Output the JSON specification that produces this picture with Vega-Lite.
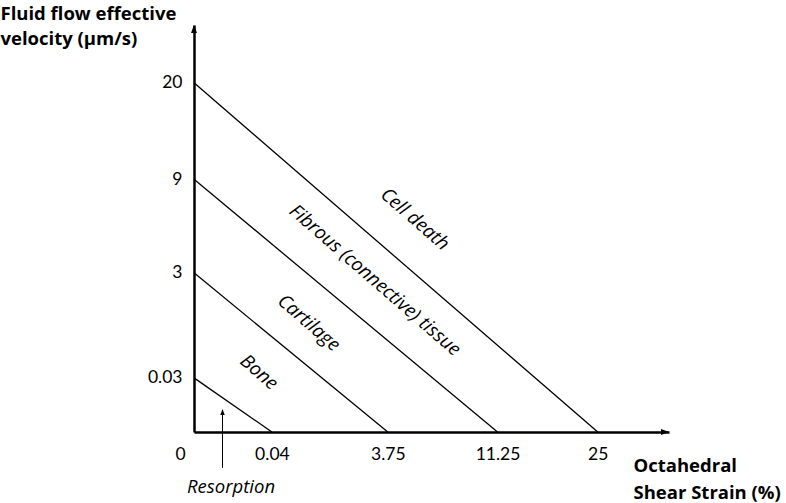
{
  "$schema": "https://vega.github.io/schema/vega-lite/v6.json",
  "autosize": {"type": "none"},
  "width": 475,
  "height": 407,
  "padding": {"left": 194, "top": 25, "right": 117, "bottom": 71},
  "background": "white",
  "config": {"view": {"stroke": null}},
  "datasets": {
    "boundaries": [
      {"boundary": "0.03-0.04", "x": 0, "y": 13.3},
      {"boundary": "0.03-0.04", "x": 16.4, "y": 0},
      {"boundary": "3-3.75", "x": 0, "y": 39.1},
      {"boundary": "3-3.75", "x": 40.8, "y": 0},
      {"boundary": "9-11.25", "x": 0, "y": 62.1},
      {"boundary": "9-11.25", "x": 63.9, "y": 0},
      {"boundary": "20-25", "x": 0, "y": 85.8},
      {"boundary": "20-25", "x": 85.0, "y": 0}
    ],
    "zones": [
      {"zone": "Cell death", "x": 46.5, "y": 52.3},
      {"zone": "Fibrous (connective) tissue", "x": 38.1, "y": 37.3},
      {"zone": "Cartilage", "x": 24.2, "y": 26.8},
      {"zone": "Bone", "x": 13.7, "y": 14.7}
    ]
  },
  "layer": [
    {
      "data": {"name": "boundaries"},
      "mark": {"type": "line", "color": "black", "strokeWidth": 1.3},
      "encoding": {
        "x": {
          "field": "x", "type": "quantitative",
          "scale": {"domain": [0, 100], "nice": false, "zero": false},
          "axis": {
            "values": [0, 16.4, 40.8, 63.9, 85.0],
            "labelExpr": "datum.value == 0 ? '0' : datum.value == 16.4 ? '0.04' : datum.value == 40.8 ? '3.75' : datum.value == 63.9 ? '11.25' : '25'",
            "grid": false, "ticks": false, "tickSize": 0,
            "domainColor": "black", "domainWidth": 2.5,
            "labelFont": "Lato", "labelFontSize": 17.5, "labelColor": "black",
            "labelBaseline": "alphabetic", "labelPadding": 27,
            "labelFlush": false, "labelOverlap": false,
            "labelOffset": {"condition": {"test": "datum.value == 0", "value": -14}, "value": 0},
            "title": ["Octahedral", "Shear Strain (%)"],
            "titleFont": "Open Sans", "titleFontSize": 18.5, "titleFontWeight": "bold",
            "titleColor": "black", "titleAlign": "left", "titleBaseline": "alphabetic",
            "titleAnchor": "start", "titleX": 439, "titleY": 39, "titleLineHeight": 27
          }
        },
        "y": {
          "field": "y", "type": "quantitative",
          "scale": {"domain": [0, 100], "nice": false, "zero": false},
          "axis": {
            "values": [13.3, 39.1, 62.1, 85.8],
            "labelExpr": "datum.value == 13.3 ? '0.03' : datum.value == 39.1 ? '3' : datum.value == 62.1 ? '9' : '20'",
            "grid": false, "ticks": false, "tickSize": 0,
            "domainColor": "black", "domainWidth": 2.5,
            "labelFont": "Lato", "labelFontSize": 17.5, "labelColor": "black",
            "labelPadding": 12, "labelOverlap": false, "labelFlush": false,
            "title": ["Fluid flow effective", "velocity (μm/s)"],
            "titleFont": "Open Sans", "titleFontSize": 18.5, "titleFontWeight": "bold",
            "titleColor": "black", "titleAngle": 0, "titleAlign": "left",
            "titleBaseline": "alphabetic", "titleAnchor": "start",
            "titleX": -194, "titleY": -6, "titleLineHeight": 25
          }
        },
        "detail": {"field": "boundary"}
      }
    },
    {
      "data": {"name": "zones"},
      "mark": {"type": "text", "angle": 41, "font": "Open Sans", "fontStyle": "italic", "fontSize": 19, "color": "black", "align": "center", "baseline": "middle"},
      "encoding": {
        "x": {"field": "x", "type": "quantitative"},
        "y": {"field": "y", "type": "quantitative"},
        "text": {"field": "zone"}
      }
    },
    {
      "data": {"values": [{"label": "Resorption", "x": 7.8, "y": -14.9}]},
      "mark": {"type": "text", "font": "Open Sans", "fontStyle": "italic", "fontSize": 18.5, "color": "black", "align": "center", "baseline": "alphabetic"},
      "encoding": {
        "x": {"field": "x", "type": "quantitative"},
        "y": {"field": "y", "type": "quantitative"},
        "text": {"field": "label"}
      }
    },
    {
      "data": {"values": [{"x": 6.0, "y": -8.8, "y2": 4.5}]},
      "mark": {"type": "rule", "color": "black", "strokeWidth": 1},
      "encoding": {
        "x": {"field": "x", "type": "quantitative"},
        "y": {"field": "y", "type": "quantitative"},
        "y2": {"field": "y2"}
      }
    },
    {
      "data": {"values": [{"x": 6.0, "y": 5.65}]},
      "mark": {"type": "point", "shape": "M0,0L-0.6,1.6L0.6,1.6Z", "size": 56, "filled": true, "color": "black", "opacity": 1, "strokeWidth": 0},
      "encoding": {
        "x": {"field": "x", "type": "quantitative"},
        "y": {"field": "y", "type": "quantitative"}
      }
    },
    {
      "data": {"values": [{"x": 0, "y": 100}]},
      "mark": {"type": "point", "shape": "M0,0L-0.6,1.6L0.6,1.6Z", "size": 100, "filled": true, "color": "black", "opacity": 1, "strokeWidth": 0},
      "encoding": {
        "x": {"field": "x", "type": "quantitative"},
        "y": {"field": "y", "type": "quantitative"}
      }
    },
    {
      "data": {"values": [{"x": 100, "y": 0}]},
      "mark": {"type": "point", "shape": "M0,0L-1.6,-0.6L-1.6,0.6Z", "size": 100, "filled": true, "color": "black", "opacity": 1, "strokeWidth": 0},
      "encoding": {
        "x": {"field": "x", "type": "quantitative"},
        "y": {"field": "y", "type": "quantitative"}
      }
    }
  ]
}
